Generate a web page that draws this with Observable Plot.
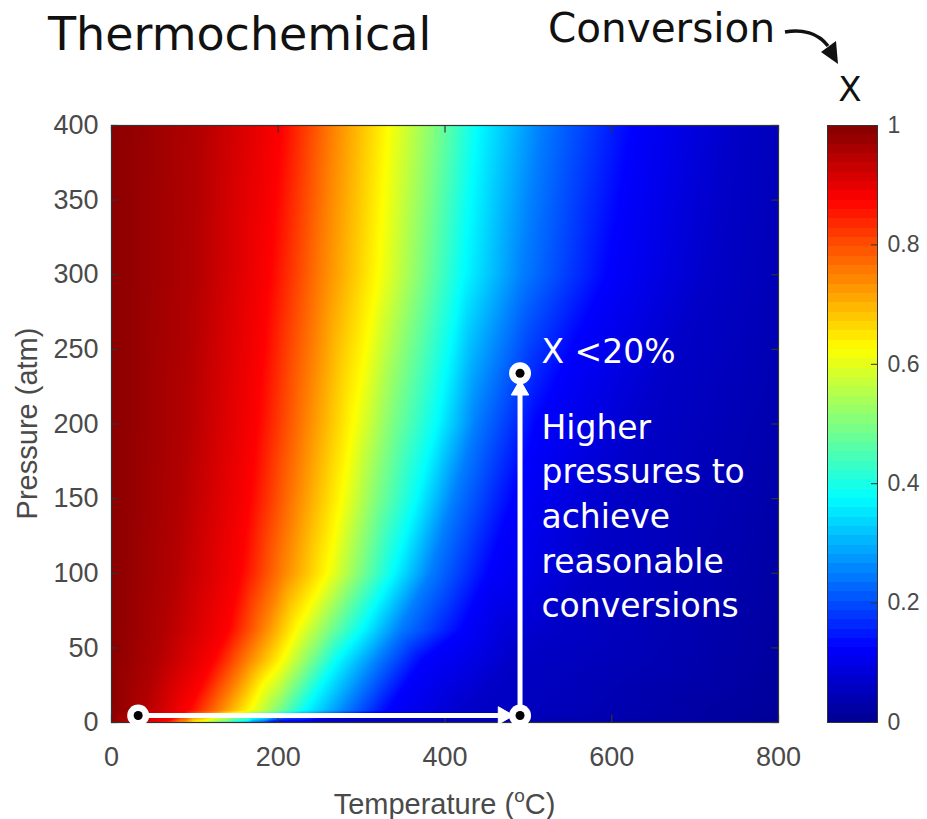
<!DOCTYPE html>
<html>
<head>
<meta charset="utf-8">
<script src="https://cdn.jsdelivr.net/npm/d3@7"></script>
<script src="https://cdn.jsdelivr.net/npm/@observablehq/plot@0.6"></script>
<style>
  body { margin: 0; background: #fff; }
  #chart { position: relative; width: 927px; height: 819px; overflow: hidden; background: #fff; }
  #chart > svg { position: absolute; }
</style>
</head>
<body>
<div id="chart"></div>
<script>
// Equilibrium conversion X over temperature (°C) and pressure (atm).
// Each pressure row lists the temperature where X reaches each level.
const pressures = [0, 1, 8, 41, 62, 100, 150, 200, 300, 400];
const levels = [0.95, 0.875, 0.75, 0.625, 0.5, 0.375, 0.25, 0.125, 0.0625];
const tempsP0   = [18, 60, 80, 100, 125, 150, 170, 190, 235];
const tempsP1   = [22, 67, 88, 110, 137, 163, 183, 203, 250];
const tempsP8   = [40, 92, 130, 166, 200, 232, 280, 332, 430];
const tempsP41  = [55, 122, 162, 204, 237, 270, 318, 372, 480];
const tempsP62  = [65, 140, 182, 222, 260, 300, 345, 420, 530];
const tempsP100 = [75, 155, 205, 259, 298, 338, 382, 452, 570];
const tempsP150 = [83, 166, 220, 276, 318, 366, 410, 482, 605];
const tempsP200 = [90, 175, 232, 290, 336, 390, 436, 510, 640];
const tempsP300 = [100, 190, 252, 320, 372, 422, 492, 595, 720];
const tempsP400 = [105, 204, 265, 332, 388, 439, 515, 625, 750];
// Conversion at the temperature limits of each row
const xAt0 = [0.99, 0.99, 0.99, 0.99, 0.99, 0.99, 0.99, 0.99, 0.99, 0.99];
const xAt800 = [0.008, 0.01, 0.012, 0.018, 0.02, 0.025, 0.03, 0.035, 0.045, 0.05];

// Axis ticks
const xTicks = [0, 200, 400, 600, 800];
const yTicks = [0, 50, 100, 150, 200, 250, 300, 350, 400];
const barTicks = [0, 0.2, 0.4, 0.6, 0.8, 1];

// Annotation path: start, corner, end (temperature, pressure)
const pathT = [32, 490, 490];
const pathP = [4.7, 4.7, 234];
// Arrowheads along the path
const headT = [470, 490];
const headP = [4.7, 222.8];
const headAngle = [90, 0];
// Annotation texts
const noteLines = ["X <20%", "Higher\npressures to\nachieve\nreasonable\nconversions"];
const noteT = [515.7, 515.7];
const noteP = [241.2, 70.4];

const tempRows = [tempsP0, tempsP1, tempsP8, tempsP41, tempsP62, tempsP100, tempsP150, tempsP200, tempsP300, tempsP400];
const field = [];
pressures.forEach((p, i) => {
  field.push({T: 0, P: p, X: xAt0[i]});
  tempRows[i].forEach((t, j) => field.push({T: t, P: p, X: levels[j]}));
  field.push({T: 800, P: p, X: xAt800[i]});
});

// MATLAB-style jet colormap
const jet = {
  type: "linear",
  domain: [0, 0.125, 0.375, 0.625, 0.875, 1],
  range: ["#00008f", "#0000ff", "#00ffff", "#ffff00", "#ff0000", "#800000"],
  interpolate: "rgb"
};

const path = pathT.map((t, i) => ({T: t, P: pathP[i]}));
const heads = headT.map((t, i) => ({T: t, P: headP[i], a: headAngle[i]}));
const notes = noteLines.map((s, i) => ({T: noteT[i], P: noteP[i], s}));

const axisStyle = {
  fontFamily: "'Liberation Sans', Arial, Helvetica, sans-serif",
  fontSize: "27px",
  color: "#4a4a4a",
  background: "transparent",
  overflow: "visible"
};

const main = Plot.plot({
  width: 800,
  height: 819,
  marginLeft: 111,
  marginRight: 22,
  marginTop: 125,
  marginBottom: 97,
  style: axisStyle,
  x: {domain: [0, 800], ticks: xTicks, tickSize: 0, tickPadding: 24, label: null},
  y: {domain: [0, 400], ticks: yTicks, tickSize: 0, tickPadding: 13, label: null},
  color: jet,
  marks: [
    Plot.raster(field, {
      x: "T", y: "P", fill: "X",
      x1: 0, x2: 800, y1: 0, y2: 400,
      interpolate: "barycentric",
      pixelSize: 1
    }),
    // inward tick marks on all four sides
    Plot.ruleX(xTicks, {y1: 0, y2: 5, stroke: "#333", strokeWidth: 1.2}),
    Plot.ruleX(xTicks, {y1: 395, y2: 400, stroke: "#333", strokeWidth: 1.2}),
    Plot.ruleY(yTicks, {x1: 0, x2: 8, stroke: "#333", strokeWidth: 1.2}),
    Plot.ruleY(yTicks, {x1: 792, x2: 800, stroke: "#333", strokeWidth: 1.2}),
    Plot.frame({stroke: "#333", strokeWidth: 1.2}),
    // annotation path with arrowheads and end markers
    Plot.line(path, {x: "T", y: "P", stroke: "white", strokeWidth: 5, curve: "linear"}),
    Plot.dot(heads, {x: "T", y: "P", symbol: "triangle", r: 6.5, rotate: "a", fill: "white", stroke: "white", strokeWidth: 1}),
    Plot.dot(path, {x: "T", y: "P", r: 11, fill: "white"}),
    Plot.dot(path, {x: "T", y: "P", r: 4.5, fill: "black"}),
    Plot.text(notes, {
      x: "T", y: "P", text: "s",
      textAnchor: "start", lineAnchor: "bottom", lineHeight: 1.355,
      fill: "white", fontSize: 33,
      fontFamily: "'DejaVu Sans', sans-serif"
    })
  ]
});

// Axis titles
const ms = d3.select(main);
ms.append("text")
  .attr("x", 444.5).attr("y", 814)
  .attr("text-anchor", "middle")
  .attr("fill", "#4a4a4a")
  .style("font-size", "29px")
  .call(t => {
    t.append("tspan").text("Temperature (");
    t.append("tspan").attr("dy", -12).style("font-size", "19px").text("o");
    t.append("tspan").attr("dy", 12).text("C)");
  });
ms.append("text")
  .attr("transform", "translate(37,423.5) rotate(-90)")
  .attr("text-anchor", "middle")
  .attr("fill", "#4a4a4a")
  .style("font-size", "29px")
  .text("Pressure (atm)");

// Colorbar
const bands = d3.range(64);
const bar = Plot.plot({
  width: 127,
  height: 819,
  marginLeft: 27,
  marginRight: 50,
  marginTop: 125,
  marginBottom: 97,
  style: {...axisStyle, fontSize: "23px"},
  x: {domain: [0, 1], axis: null},
  y: {
    domain: [0, 1], ticks: barTicks, axis: "right", tickSize: 0, tickPadding: 10, label: null,
    tickFormat: d => String(+d.toFixed(1))
  },
  color: jet,
  marks: [
    Plot.rect(bands, {x1: 0, x2: 1, y1: d => d / 64, y2: d => (d + 1) / 64, fill: d => (d + 0.5) / 64, inset: 0, shapeRendering: "crispEdges"}),
    Plot.ruleY(barTicks.slice(1, -1), {x1: 0.88, x2: 1, stroke: "#333"}),
    Plot.frame({stroke: "#333"})
  ]
});
bar.style.left = "800px";
bar.style.top = "0px";
main.style.left = "0px";
main.style.top = "0px";

const chart = document.getElementById("chart");
chart.append(main, bar);

// Headings above the plot
const head = d3.select(chart).append("svg")
  .attr("width", 927).attr("height", 120)
  .style("left", "0px").style("top", "0px")
  .style("font-family", "'DejaVu Sans', sans-serif");
head.append("text").attr("x", 48).attr("y", 50)
  .style("font-size", "46px").attr("fill", "#111").text("Thermochemical");
head.append("text").attr("x", 548).attr("y", 42)
  .style("font-size", "40.5px").attr("fill", "#111").text("Conversion");
head.append("text").attr("x", 850).attr("y", 101).attr("text-anchor", "middle")
  .style("font-size", "34px").attr("fill", "#111").text("X");
head.append("path")
  .attr("d", "M785,32 C802,29 818,33 828,46")
  .attr("fill", "none").attr("stroke", "#111").attr("stroke-width", 3.5);
head.append("path")
  .attr("d", "M821,52 L838,64 L836,41 Z")
  .attr("fill", "#111");
</script>
</body>
</html>
